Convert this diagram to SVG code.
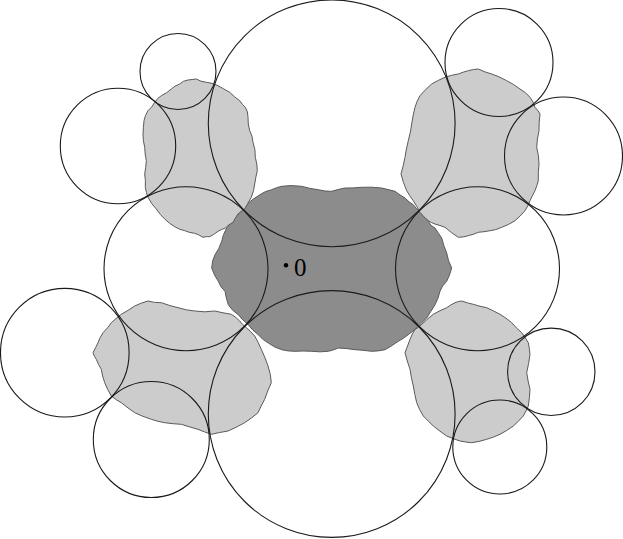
<svg xmlns="http://www.w3.org/2000/svg" width="623" height="539" viewBox="0 0 623 539">
<style>
.light{fill:#cccccc;stroke:#5a5a5a;stroke-width:1;stroke-linejoin:round}
.dark{fill:#8c8c8c;stroke:#5a5a5a;stroke-width:1;stroke-linejoin:round}
.c{fill:none;stroke:#1a1a1a;stroke-width:1.1}
.lbl{font-family:"Liberation Serif","DejaVu Serif",serif;font-size:25px;fill:#000}
</style>
<rect width="623" height="539" fill="#fff"/>
<g id="regions">
<path id="blob-center" class="dark" d="M281.7,186.3 L291,185.6 L301.7,186.3 L310,188.4 L318.3,189.7 L325,191 L331.7,191.3 L338,189.5 L345,188 L353,187.9 L361.7,187.3 L371,187.2 L381.7,188 L388,189.6 L395,191.3 L400,194.9 L405,198 L409,201.8 L413.3,204.7 L416.5,208.6 L420,211.3 L424,216.6 L428.3,221.3 L431,225.4 L435,228 L438,232.6 L441.7,238 L443.8,245.4 L446.7,253 L448.6,260.8 L451.7,268 L449.5,275 L446.7,281.3 L442.6,286 L440,291.3 L437.9,298.4 L435,304.7 L430.6,311.8 L426.7,318 L422,322.4 L418.3,326.3 L413,330.9 L408.3,334.7 L403,338.5 L398.3,341.3 L391,346.2 L385,349.7 L378,350.9 L371.7,351.3 L363,350.3 L355,349.7 L346,348.5 L338.3,348 L333,350 L328.3,351.3 L320,351.8 L311.7,351.3 L303,351 L295,351.3 L288,350.9 L281.7,349.7 L274.6,346.9 L268.3,343 L262.6,339.1 L258.3,334.7 L253,330.3 L248.3,324.7 L242.8,319.9 L238.3,314.7 L232.6,310.2 L228.3,304.7 L226.3,297.8 L225,291.3 L221,286.8 L218.3,281.3 L214.5,274.9 L211.7,268 L212.6,261 L215,254.7 L218.9,248.3 L221.7,241.3 L223.5,234.5 L226.7,228 L229,224.9 L231.7,221.3 L236.4,216.6 L240,211.3 L244.5,207.6 L248.3,203 L253.8,198.7 L260,194.7 L265.4,191.6 L271.7,189.7 L276.6,187.7 Z"/>
<path id="blob-tl" class="light" d="M188,80 L196.3,79 L201,81.2 L206.3,82.3 L212,83.3 L218,85.7 L223.5,88.8 L229.7,92.3 L234.6,96.8 L239.7,100.7 L242.6,104.6 L245.3,107.3 L247.4,111.8 L248,117.3 L248.3,124 L249.7,130.7 L252,136.2 L253,142.3 L254.9,149.6 L255.3,157.3 L256.8,164 L257.3,170.7 L255.8,177.4 L254.7,184 L253.5,190.6 L251.3,197.3 L247.7,203.6 L244.7,209 L241.1,211.3 L238,214 L235.1,218.6 L233,222.3 L228.9,224.9 L225.3,228 L221.9,229.3 L218,231.3 L213.4,234.6 L209.7,236.7 L206.5,236.6 L203,237.3 L198.6,234.8 L194.7,233.3 L189.6,232.4 L184.7,230.7 L179.6,229.2 L174.7,226.7 L169.6,223.3 L164.7,219 L160.4,214.5 L156.3,209 L151.8,203.7 L148,197.3 L146.4,192.5 L145.3,187.3 L145.4,180.6 L144.7,174 L145.7,167.4 L146.3,160.7 L145.2,154 L144.7,147.3 L143.4,140.7 L143,134 L143.4,127.3 L144,120.7 L145.5,115.4 L148,110.7 L151.8,106.9 L154.7,102.3 L157.7,98.5 L161.3,95.7 L166.5,92.8 L171.3,89 L175.1,86.1 L179.7,84 L183.4,81.3 Z"/>
<path id="blob-tr" class="light" d="M478.3,69 L485,71.9 L491.7,74 L499,76.8 L506.7,80.7 L513.4,84.4 L520,89 L525.4,92.6 L530,97.3 L533,102.1 L535,107.3 L538,110.8 L540,114 L539.2,122.3 L539,130.7 L537.4,139 L536.7,147.3 L538.4,155.6 L539,164 L538.3,172.3 L538.3,180.7 L536.9,185.5 L535,190.7 L532.3,195.9 L530,200.7 L527.9,205.7 L525,210.7 L520.2,215.9 L515,220.7 L508.6,224.4 L501.7,227.3 L495.8,229.6 L490,230.7 L484,231.7 L478.3,232.3 L473.2,234.3 L468.3,235.7 L463.3,236.9 L458.3,237.3 L451.4,232.5 L445,227.3 L440,225.5 L435,224 L431.5,222.6 L428.3,220.7 L423.9,216.8 L420,212.3 L416.8,206.4 L413.3,200.7 L409.8,195.8 L406.7,190.7 L403.4,182.3 L401,174 L403.2,165.7 L405,157.3 L406.4,149 L408.3,140.7 L410.3,132.3 L411.7,124 L413.1,115.6 L415,107.3 L417,101.6 L420,95.7 L425.6,89.6 L431.7,84 L438.2,80.4 L445,77.3 L451.6,75.3 L458.3,74 L463.4,72.1 L468.3,70.7 L473.4,69.5 Z"/>
<path id="blob-bl" class="light" d="M148,301 L154.6,302.4 L161.3,302.7 L169.7,305.5 L178,307.7 L186.3,309.8 L194.7,311 L204.7,311.8 L214.7,311 L223,312.8 L231.3,314.3 L235.8,317.4 L239.7,321 L242.8,324.6 L246.3,327.7 L250.6,331.6 L254.7,336 L258.2,342.5 L261.3,349.3 L265,357.8 L268,366 L270.3,374.3 L271.3,382.7 L267.7,391 L264.7,399.3 L261.1,406.1 L258,412.7 L251.6,417.9 L244.7,422.7 L236.5,427.1 L228,431 L219.7,432.5 L211.3,434.3 L204.5,431.9 L198,429.3 L189.6,426.9 L181.3,424.3 L172.9,423.7 L164.7,422.7 L158,421.3 L151.3,419.3 L142.9,416.3 L134.7,412.7 L128,407.9 L121.3,402.7 L116.4,399.8 L111.3,396 L107.6,389.3 L104.7,382.7 L102.6,376 L101.3,369.3 L98.5,364.4 L96.3,359.3 L94.4,356.2 L93,352.7 L95.6,347.6 L98,342.7 L100.2,337.5 L103,332.7 L107.5,327.8 L111.3,322.7 L116.4,318.3 L121.3,314.3 L128.1,310.3 L134.7,306 L141.4,303.1 Z"/>
<path id="blob-br" class="light" d="M461.7,301 L467.5,302.9 L473.3,304.3 L480,306.3 L486.7,307.7 L493.4,310.9 L500,314.3 L506,318.2 L511.7,322.7 L516.5,327.9 L521.7,332.7 L525.3,337.8 L528.3,342.7 L529.3,348.5 L530,354.3 L528.6,363.5 L526.7,372.7 L528.1,381 L530,389.3 L529.4,397.6 L528.3,406 L526,411 L523.3,416 L518.4,421.2 L513.3,426 L506.8,430.4 L500,434.3 L493.4,437.1 L486.7,439.3 L479.2,441.4 L471.7,442.7 L465.8,442 L460,441 L453.3,438.7 L446.7,436 L440,431.2 L433.3,426 L428.4,421.2 L423.3,416 L419.6,409.5 L416.7,402.7 L414.8,394.3 L413.3,386 L411.4,377.6 L410,369.3 L407.3,361 L405,352.7 L407.6,346 L410,339.3 L412.3,334.2 L415,329.3 L417.6,327.9 L420,326 L426.5,319.9 L433.3,314.3 L440,310.7 L446.7,307.7 L450.7,305 L455,302.7 L458.4,301.5 Z"/>
</g>
<g id="circles">
<circle id="c-top" class="c" cx="331.7" cy="123.3" r="123.4"/>
<circle id="c-bottom" class="c" cx="331.7" cy="414" r="123.4"/>
<circle id="c-left" class="c" cx="186" cy="268.7" r="82"/>
<circle id="c-right" class="c" cx="477.5" cy="268.7" r="82"/>
<circle id="c-tl1" class="c" cx="178" cy="71.5" r="38"/>
<circle id="c-tl2" class="c" cx="118" cy="146" r="57.7"/>
<circle id="c-bl1" class="c" cx="64.8" cy="352.7" r="64.3"/>
<circle id="c-bl2" class="c" cx="151.3" cy="439.5" r="58"/>
<circle id="c-tr1" class="c" cx="499" cy="62.5" r="54"/>
<circle id="c-tr2" class="c" cx="563.5" cy="156" r="59"/>
<circle id="c-br1" class="c" cx="551.3" cy="371.8" r="43.7"/>
<circle id="c-br2" class="c" cx="499.8" cy="447" r="47"/>
</g>
<g id="label">
<circle cx="286" cy="265.3" r="2.2" fill="#000"/>
<text class="lbl" x="294" y="275.5">0</text>
</g>
</svg>
